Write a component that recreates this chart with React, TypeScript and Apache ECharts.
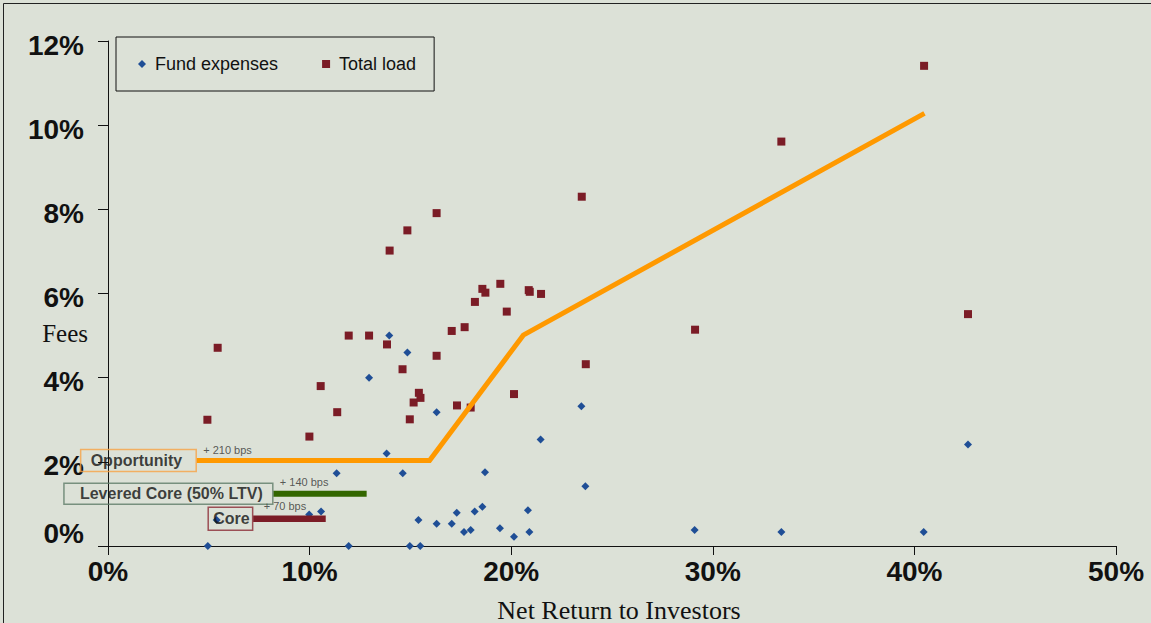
import React, { useEffect, useRef } from "react";
import * as echarts from "echarts";

// Net return (%) vs fees (%)
const fundExpenses: [number, number][] = [
  [4.95, 0.0], [5.39, 0.62], [9.98, 0.75], [10.57, 0.82], [11.34, 1.73], [11.94, 0.0],
  [12.95, 4.0], [13.82, 2.2], [13.95, 5.0], [14.62, 1.73], [14.85, 4.6], [14.97, 0.0],
  [15.4, 0.62], [15.49, 0.0], [16.3, 3.18], [16.3, 0.53], [17.05, 0.53], [17.3, 0.79],
  [17.66, 0.33], [17.99, 0.38], [18.19, 0.82], [18.57, 0.93], [18.7, 1.75], [19.44, 0.42],
  [20.14, 0.22], [20.83, 0.85], [20.9, 0.33], [21.46, 2.53], [23.48, 3.32], [23.68, 1.42],
  [29.1, 0.38], [33.4, 0.33], [40.46, 0.33], [42.66, 2.41],
];

const totalLoad: [number, number][] = [
  [4.93, 3.0], [5.44, 4.71], [9.99, 2.6], [10.55, 3.8], [11.37, 3.18], [11.94, 5.0],
  [12.95, 5.0], [13.84, 4.79], [13.97, 7.02], [14.61, 4.2], [14.85, 7.5], [14.97, 3.01],
  [15.16, 3.41], [15.42, 3.64], [15.5, 3.52], [16.3, 4.52], [16.3, 7.91], [17.05, 5.11],
  [17.31, 3.34], [17.69, 5.2], [17.99, 3.29], [18.2, 5.8], [18.57, 6.11], [18.72, 6.02],
  [19.46, 6.23], [19.78, 5.57], [20.14, 3.61], [20.87, 6.08], [20.92, 6.04], [21.48, 5.99],
  [23.5, 8.3], [23.7, 4.32], [29.12, 5.14], [33.4, 9.61], [40.48, 11.41], [42.66, 5.51],
];

// Orange fee hurdle line
const hurdleX = [4.4, 15.95, 20.6, 40.5];
const hurdleY = [2.03, 2.03, 5.01, 10.28];

// Premium bars
const premiumNames = ["Opportunity", "Levered Core (50% LTV)", "Core"];
const premiumNotes = ["+ 210 bps", "+ 140 bps", "+ 70 bps"];
const premiumLevels = [2.03, 1.24, 0.65];
const premiumStarts = [4.4, 8.2, 7.2];
const premiumEnds = [15.95, 12.83, 10.8];

const xTicks = [0, 10, 20, 30, 40, 50];
const yTicks = [0, 2, 4, 6, 8, 10, 12];

const BG = "#DCE1D7";
const SANS = '"Liberation Sans", Arial, sans-serif';
const SERIF = '"Liberation Serif", "Times New Roman", serif';

const boxStyles = [
  { borderColor: "#F7A245", padding: [4, 14, 1, 10] },
  { borderColor: "#5E7C68", padding: [4, 10, 0, 16] },
  { borderColor: "#8B2A35", padding: [5, 3, 1, 5] },
];
const noteStyles = [
  { distance: 6, offset: [0, -11] },
  { distance: 6, offset: [0, -12] },
  { distance: 10, offset: [0, -13] },
];
const barColors = ["#FF9900", "#336600", "#7B1C26"];
const barWidths = [5, 6, 6.5];

export default function App() {
  const ref = useRef<HTMLDivElement>(null);
  useEffect(() => {
    if (!ref.current) return;
    const chart = echarts.init(ref.current, null, { renderer: "svg" });

    const annotations: any[] = [];
    premiumNames.forEach((name, i) => {
      annotations.push({
        value: [premiumStarts[i], premiumLevels[i]],
        label: {
          show: true,
          position: "left",
          distance: 0,
          formatter: name,
          fontFamily: SANS,
          fontSize: 16,
          fontWeight: "bold",
          lineHeight: 17,
          color: "#111",
          borderColor: boxStyles[i].borderColor,
          borderWidth: 1.5,
          padding: boxStyles[i].padding,
        },
      });
      annotations.push({
        value: [premiumStarts[i], premiumLevels[i]],
        label: {
          show: true,
          position: "right",
          distance: noteStyles[i].distance,
          offset: noteStyles[i].offset,
          formatter: premiumNotes[i],
          fontFamily: SANS,
          fontSize: 11,
          color: "#333",
        },
      });
    });

    const premiumSeries = premiumNames.slice(1).map((name, j) => {
      const i = j + 1;
      return {
        name: name + " premium",
        type: "line",
        symbol: "none",
        z: 4,
        lineStyle: { color: barColors[i], width: barWidths[i] },
        data: [
          [premiumStarts[i], premiumLevels[i]],
          [premiumEnds[i], premiumLevels[i]],
        ],
      };
    });

    const option: any = {
      animation: false,
      backgroundColor: BG,
      textStyle: { fontFamily: SANS },
      grid: { left: 108, right: 35, top: 41, bottom: 77, containLabel: false, outerBoundsMode: "none" },
      graphic: [
        {
          type: "rect",
          silent: true,
          shape: { x: 3.5, y: 3.5, width: 1170, height: 700 },
          style: { fill: "none", stroke: "#222", lineWidth: 1 },
        },
      ],
      legend: {
        left: 116,
        top: 37,
        data: [
          { name: "Fund expenses", icon: "diamond" },
          { name: "Total load", icon: "rect" },
        ],
        itemWidth: 8,
        itemHeight: 8,
        itemGap: 44,
        padding: [18, 18, 18, 22],
        borderColor: "#111",
        borderWidth: 1,
        textStyle: { fontSize: 18, color: "#111", fontFamily: SANS, padding: [0, 0, 0, 4] },
      },
      xAxis: {
        type: "value",
        min: xTicks[0],
        max: xTicks[xTicks.length - 1],
        interval: xTicks[1] - xTicks[0],
        axisLine: { show: true, lineStyle: { color: "#111", width: 1 } },
        axisTick: { show: true, length: 9, lineStyle: { color: "#111" } },
        splitLine: { show: false },
        axisLabel: {
          formatter: "{value}%",
          fontSize: 28,
          fontWeight: "bold",
          color: "#111",
          margin: 11,
          fontFamily: SANS,
        },
        name: "Net Return to Investors",
        nameLocation: "middle",
        nameGap: 54,
        nameMoveOverlap: false,
        nameTextStyle: {
          fontFamily: SERIF,
          fontSize: 26,
          lineHeight: 20,
          color: "#111",
          padding: [0, 0, 0, 14],
        },
      },
      yAxis: {
        type: "value",
        min: yTicks[0],
        max: yTicks[yTicks.length - 1],
        interval: yTicks[1] - yTicks[0],
        axisLine: { show: true, lineStyle: { color: "#111", width: 1 } },
        axisTick: { show: true, length: 10, lineStyle: { color: "#111" } },
        splitLine: { show: false },
        axisLabel: {
          margin: 24,
          formatter: (v: number) => (v === 0 ? "{z|0%}" : `{a|${v}%}`),
          rich: {
            a: { fontSize: 28, fontWeight: "bold", color: "#111", fontFamily: SANS, padding: [8, 0, 0, 0] },
            z: { fontSize: 28, fontWeight: "bold", color: "#111", fontFamily: SANS, padding: [0, 0, 26, 0] },
          },
        },
        name: "Fees",
        nameLocation: "middle",
        nameRotate: 0,
        nameGap: 20,
        nameMoveOverlap: false,
        nameTextStyle: {
          fontFamily: SERIF,
          fontSize: 25,
          color: "#111",
          align: "right",
          verticalAlign: "top",
          padding: [27, 0, 0, 0],
        },
      },
      series: [
        {
          name: "Fund expenses",
          type: "scatter",
          symbol: "diamond",
          symbolSize: 8,
          z: 3,
          itemStyle: { color: "#1F4E96", opacity: 1 },
          data: fundExpenses,
        },
        {
          name: "Total load",
          type: "scatter",
          symbol: "rect",
          symbolSize: 8,
          z: 3,
          itemStyle: { color: "#7B1C26", opacity: 1 },
          data: totalLoad,
        },
        {
          name: "Opportunity hurdle",
          type: "line",
          symbol: "none",
          z: 4,
          lineStyle: { color: barColors[0], width: barWidths[0], join: "miter" },
          data: hurdleX.map((x, i) => [x, hurdleY[i]]),
        },
        ...premiumSeries,
        {
          name: "annotations",
          type: "scatter",
          symbolSize: 1,
          z: 6,
          silent: true,
          itemStyle: { color: "rgba(0,0,0,0)" },
          data: annotations,
        },
      ],
    };
    chart.setOption(option);
    return () => chart.dispose();
  }, []);
  return (
    <div
      ref={ref}
      style={{ position: "fixed", left: 0, top: 0, width: 1151, height: 623 }}
    />
  );
}
